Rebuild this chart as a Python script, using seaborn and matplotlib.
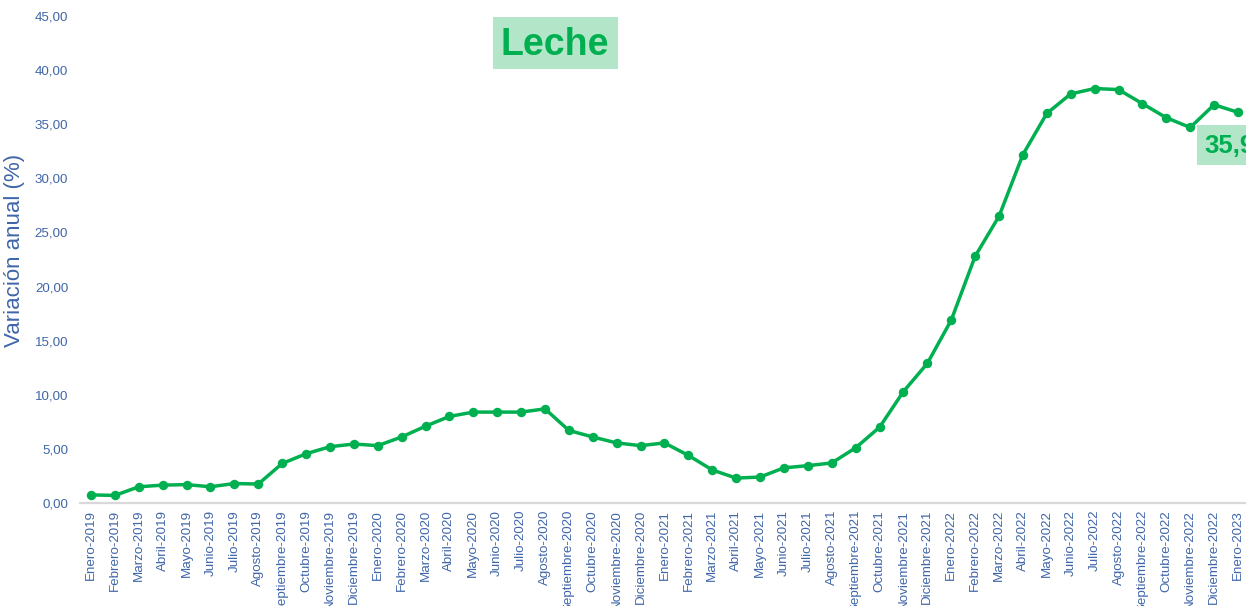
import matplotlib
matplotlib.use("Agg")
import matplotlib.pyplot as plt
import seaborn as sns
import numpy as np
import pandas as pd
from matplotlib.patches import Rectangle

months = ["Enero", "Febrero", "Marzo", "Abril", "Mayo", "Junio", "Julio",
          "Agosto", "Septiembre", "Octubre", "Noviembre", "Diciembre"]
periods = [f"{m}-{y}" for y in (2019, 2020, 2021, 2022) for m in months] + ["Enero-2023"]

values = [0.75, 0.70, 1.50, 1.65, 1.70, 1.50, 1.80, 1.75, 3.65, 4.55, 5.20, 5.45,
          5.30, 6.10, 7.10, 8.00, 8.40, 8.40, 8.40, 8.70, 6.70, 6.10, 5.55, 5.30,
          5.55, 4.40, 3.05, 2.30, 2.40, 3.25, 3.45, 3.70, 5.10, 7.00, 10.30, 12.90,
          16.90, 22.80, 26.50, 32.20, 36.00, 37.80, 38.30, 38.20, 36.90, 35.60, 34.70, 36.80,
          36.10]

yticks = [0, 5, 10, 15, 20, 25, 30, 35, 40, 45]
title_text = "Leche"
end_label = "35,96"
ylabel = "Variación anual (%)"

GREEN = "#00B050"
LIGHT = "#B3E6C9"
BLUE = "#3F66A9"

sns.set_theme(style="white")
plt.rcParams["font.family"] = ["Liberation Sans", "DejaVu Sans"]

df = pd.DataFrame({"idx": np.arange(len(periods)), "valor": values})

W, H = 1246, 606
fig = plt.figure(figsize=(W / 100, H / 100), dpi=100)
ax = fig.add_axes([80 / W, 103 / H, 1166 / W, 487 / H])

sns.lineplot(data=df, x="idx", y="valor", ax=ax, color=GREEN, linewidth=2.5,
             marker="o", markersize=6.8, markeredgewidth=0, markerfacecolor=GREEN)

ax.set_xlim(-0.46, len(periods) - 1 + 0.335)
ax.set_ylim(0, 45)
ax.set_yticks(yticks)
ax.set_yticklabels([f"{v:.2f}".replace(".", ",") for v in yticks], color=BLUE, fontsize=9.6)
ax.set_xticks(np.arange(len(periods)))
ax.set_xticklabels(periods, rotation=90, color=BLUE, fontsize=9.6, ha="center", va="top")
ax.tick_params(axis="x", length=0, pad=5)
ax.tick_params(axis="y", length=0, pad=8.5)
ax.set_xlabel("")
ax.set_ylabel("")
for s in ["top", "right", "left"]:
    ax.spines[s].set_visible(False)
ax.spines["bottom"].set_color("#D9D9D9")
ax.spines["bottom"].set_linewidth(1.6)
ax.grid(False)

fig.text(15 / W, 1 - 250 / H, ylabel, rotation=90, color=BLUE, fontsize=16,
         ha="center", va="center")

# Title box
fig.patches.append(Rectangle((493 / W, 1 - 69 / H), 125 / W, 52 / H,
                             transform=fig.transFigure, facecolor=LIGHT,
                             edgecolor="none", zorder=0))
fig.text(555 / W, 1 - 45 / H, title_text, color=GREEN, fontsize=27,
         fontweight="bold", ha="center", va="center")

# End label box
fig.patches.append(Rectangle((1197 / W, 1 - 165 / H), 80 / W, 40 / H,
                             transform=fig.transFigure, facecolor=LIGHT,
                             edgecolor="none", zorder=0))
fig.text(1204 / W, 1 - 146 / H, end_label, color=GREEN, fontsize=18.5,
         fontweight="bold", ha="left", va="center")

fig.savefig("out.png", dpi=100)
